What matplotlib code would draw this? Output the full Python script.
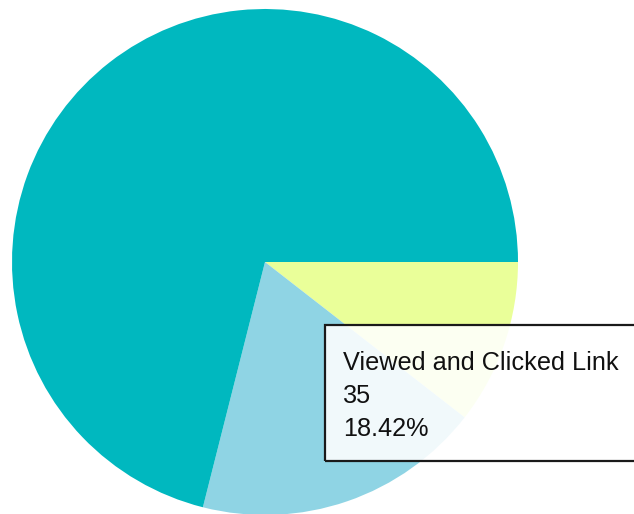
import matplotlib
matplotlib.use('Agg')
from matplotlib import pyplot as plt
from matplotlib.patches import Rectangle

# email campaign results, drawn clockwise from 3 o'clock
labels = ['Clicked Link Only', 'Viewed and Clicked Link', 'Did Not Respond']
counts = [20, 35, 135]
colors = ['#eaff99', '#8fd4e4', '#00b8bf']

W, H = 634, 514
fig = plt.figure(figsize=(W / 100, H / 100), dpi=100)
ax = fig.add_axes([0, 0, 1, 1])

ax.pie(counts, colors=colors, startangle=0, counterclock=False,
       center=(265, H - 262), radius=253,
       wedgeprops=dict(linewidth=0))
ax.set_xlim(0, W)
ax.set_ylim(0, H)
ax.set_aspect('auto')
ax.axis('off')

# hover box for the selected slice
sel = 1
total = sum(counts)
pct = counts[sel] / total * 100
ax.add_patch(Rectangle((325, H - 461), 330, 136, facecolor='white', alpha=0.88,
                       edgecolor='none', zorder=3))
ax.add_patch(Rectangle((325, H - 461), 330, 136, facecolor='none',
                       edgecolor='#1a1a1a', linewidth=1.6, zorder=4))
lines = [labels[sel], str(counts[sel]), '%.2f%%' % pct]
baselines = [370, 403, 436]
for txt, yb in zip(lines, baselines):
    ax.text(343, H - yb, txt, fontsize=18.2, family=['Liberation Sans', 'DejaVu Sans'],
            color='#111111', va='baseline', ha='left', zorder=5)

fig.savefig('out.png', dpi=100, facecolor='white')
